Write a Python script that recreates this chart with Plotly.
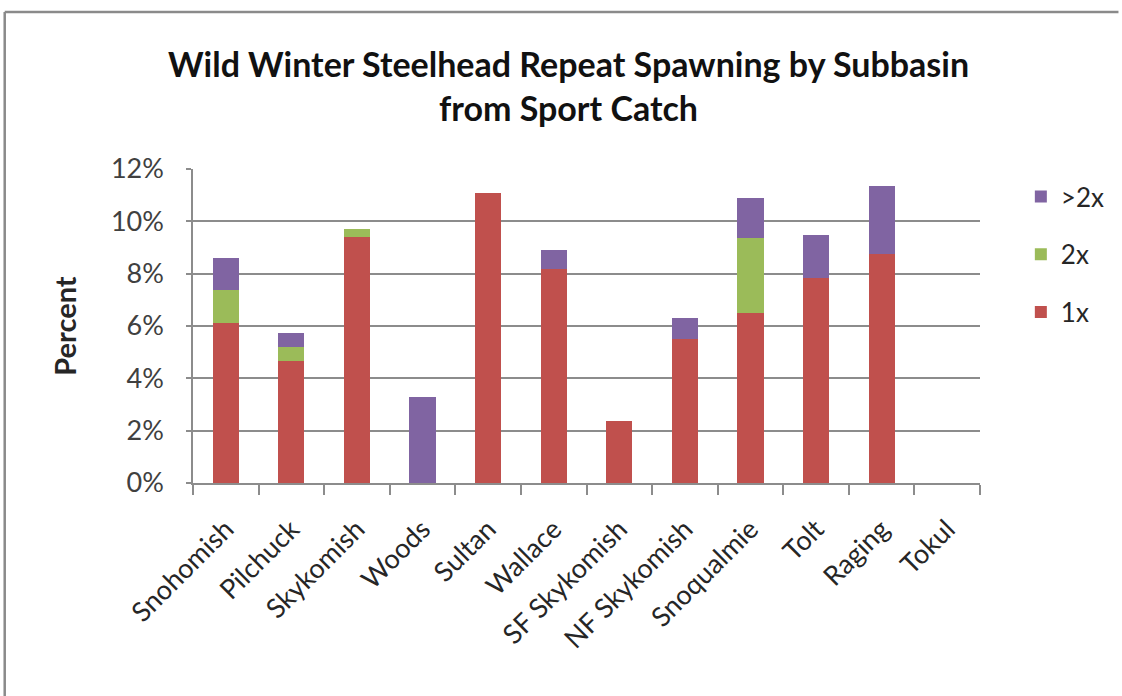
import plotly.graph_objects as go

# Subbasins and the percent of sport-caught wild winter steelhead by spawning history
subbasins = ["Snohomish", "Pilchuck", "Skykomish", "Woods", "Sultan", "Wallace",
             "SF Skykomish", "NF Skykomish", "Snoqualmie", "Tolt", "Raging", "Tokul"]
once = [6.1, 4.66, 9.4, 0.0, 11.07, 8.19, 2.37, 5.49, 6.48, 7.83, 8.77, 0.0]
twice = [1.26, 0.54, 0.31, 0.0, 0.0, 0.0, 0.0, 0.0, 2.87, 0.0, 0.0, 0.0]
more_than_twice = [1.22, 0.52, 0.0, 3.3, 0.0, 0.70, 0.0, 0.80, 1.53, 1.63, 2.58, 0.0]

y_ticks = [0, 2, 4, 6, 8, 10, 12]
y_tick_text = ["0%", "2%", "4%", "6%", "8%", "10%", "12%"]

FONT = "Lato"
RED = "#C0504D"
GREEN = "#9BBB59"
PURPLE = "#8064A2"
GRID = "#8c8c8c"

fig = go.Figure()
series = [("1x", once, RED, 3), ("2x", twice, GREEN, 2), (">2x", more_than_twice, PURPLE, 1)]
for name, vals, color, rank in series:
    fig.add_trace(go.Bar(
        x=subbasins, y=vals, name=name, legendgroup=name, legendrank=rank,
        marker=dict(color=color, line=dict(width=0)),
        width=0.4,
    ))

# Plot area geometry in pixels
W, H = 1122, 696
L, R, T, B = 193, 139, 169, 213
pw, ph = W - L - R, H - T - B

def px_to_paper_x(px):
    return (px - L) / pw

def px_to_paper_y(py):
    return (H - B - py) / ph

fig.update_layout(
    width=W, height=H,
    margin=dict(l=L, r=R, t=T, b=B),
    barmode="stack",
    bargap=0.6,
    plot_bgcolor="white",
    paper_bgcolor="white",
    font=dict(family=FONT, size=27, color="#262626"),
    showlegend=True,
    legend=dict(
        x=px_to_paper_x(1024), y=px_to_paper_y(173), xanchor="left", yanchor="top",
        traceorder="grouped", tracegroupgap=21,
        font=dict(family=FONT, size=26, color="#262626"),
        itemwidth=30,
    ),
    xaxis=dict(
        type="category",
        tickangle=-45,
        tickson="boundaries",
        ticks="outside", ticklen=10, tickcolor=GRID, tickwidth=1.5,
        showline=True, linecolor=GRID, linewidth=1.5,
        tickfont=dict(family=FONT, size=27, color="#262626"),
        ticklabelstandoff=18,
        showgrid=False,
    ),
    yaxis=dict(
        range=[0, 12],
        tickvals=y_ticks, ticktext=y_tick_text,
        ticks="outside", ticklen=5, tickcolor=GRID, tickwidth=1.5,
        showline=True, linecolor=GRID, linewidth=1.5,
        showgrid=True, gridcolor=GRID, gridwidth=1.5,
        zeroline=False,
        tickfont=dict(family=FONT, size=27, color="#404040"),
        ticklabelstandoff=17,
        title=dict(text="<b>Percent</b>", standoff=26,
                   font=dict(family=FONT, size=29, color="#262626")),
    ),
    annotations=[
        dict(text="<b>Wild Winter Steelhead Repeat Spawning by Subbasin</b>",
             xref="paper", yref="paper", x=px_to_paper_x(570), y=px_to_paper_y(63),
             xanchor="center", yanchor="middle", showarrow=False,
             font=dict(family=FONT, size=34, color="#111111")),
        dict(text="<b>from Sport Catch</b>",
             xref="paper", yref="paper", x=px_to_paper_x(570), y=px_to_paper_y(107),
             xanchor="center", yanchor="middle", showarrow=False,
             font=dict(family=FONT, size=34, color="#111111")),
    ],
    shapes=[
        dict(type="line", xref="paper", yref="paper",
             x0=px_to_paper_x(4), y0=px_to_paper_y(12), x1=px_to_paper_x(1122), y1=px_to_paper_y(12),
             line=dict(color="#8a8a8a", width=2.5)),
        dict(type="line", xref="paper", yref="paper",
             x0=px_to_paper_x(4), y0=px_to_paper_y(12), x1=px_to_paper_x(4), y1=px_to_paper_y(696),
             line=dict(color="#8a8a8a", width=2.5)),
    ],
)

fig.write_html("out.html")
